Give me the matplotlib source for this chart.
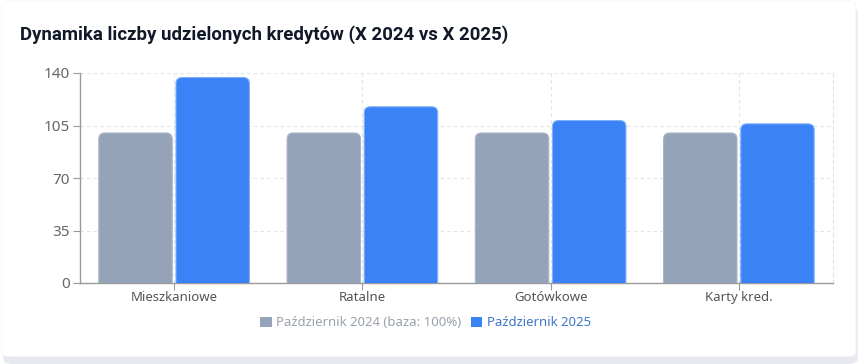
import matplotlib
matplotlib.use('Agg')
import matplotlib.pyplot as plt
from matplotlib.patches import FancyBboxPatch
import numpy as np

# dane
categories = ['Mieszkaniowe', 'Ratalne', 'Gotówkowe', 'Karty kred.']
oct_2024 = [100, 100, 100, 100]
oct_2025 = [137, 117.5, 108.3, 106.1]
yticks = [0, 35, 70, 105, 140]
labels = ['Październik 2024 (baza: 100%)', 'Październik 2025']

GRAY = '#94a3b8'
BLUE = '#3b82f6'

plt.rcParams['font.family'] = ['Noto Sans', 'DejaVu Sans']

fig = plt.figure(figsize=(8.61, 3.64), dpi=100)
fig.patch.set_facecolor('white')

# karta z cieniem
shadow = FancyBboxPatch((0.004, 0.0), 0.992, 0.98, boxstyle='round,pad=0,rounding_size=0.012',
                        transform=fig.transFigure, facecolor='#e6e9ef', edgecolor='none', zorder=0)
card = FancyBboxPatch((0.002, 0.02), 0.992, 0.977, boxstyle='round,pad=0,rounding_size=0.012',
                      transform=fig.transFigure, facecolor='white', edgecolor='#f3f4f7', lw=0.6, zorder=1)
fig.patches.extend([shadow, card])

fig.text(20 / 861, 1 - 35 / 364, 'Dynamika liczby udzielonych kredytów (X 2024 vs X 2025)',
         fontsize=13.4, fontweight='bold', family=['Roboto', 'DejaVu Sans'],
         color='#111827', va='center', ha='left')

ax = fig.add_axes([80 / 861, 1 - 283 / 364, 753 / 861, 210 / 364])
ax.set_facecolor('none')
ax.set_zorder(2)

x = np.arange(len(categories))
w = 0.39
b1 = ax.bar(x - 0.205, oct_2024, w, color=GRAY)
b2 = ax.bar(x + 0.205, oct_2025, w, color=BLUE)

# zaokrąglone rogi
for bars, col, ec in [(b1, GRAY, '#aab6c6'), (b2, BLUE, '#7fb0fb')]:
    for r in bars:
        bx, by = r.get_x(), r.get_y()
        bw, bh = r.get_width(), r.get_height()
        r.remove()
        p = FancyBboxPatch((bx, by - 10), bw, bh + 10,
                           boxstyle='round,pad=0,rounding_size=0.032', mutation_aspect=125,
                           facecolor=col, edgecolor=ec, lw=0.8, zorder=3)
        ax.add_patch(p)

ax.set_xlim(-0.5, len(categories) - 0.5)
ax.set_ylim(0, 140)
ax.set_yticks(yticks)
ax.set_xticks(x)
ax.set_xticklabels(categories)

ax.grid(True, axis='y', linestyle=(0, (3, 3)), color='#e3e3e3', lw=0.8, zorder=0)
ax.grid(True, axis='x', linestyle=(0, (3, 3)), color='#e3e3e3', lw=0.8, zorder=0)
ax.set_axisbelow(True)

for s in ['left', 'bottom']:
    ax.spines[s].set_color('#9a9a9a')
    ax.spines[s].set_linewidth(1.0)
ax.spines['top'].set_visible(False)
ax.spines['right'].set_color('#e3e3e3')
ax.spines['right'].set_linestyle((0, (3, 3)))
ax.spines['right'].set_linewidth(0.8)

ax.tick_params(axis='y', length=5, color='#9a9a9a', labelsize=11, labelcolor='#666666', pad=2)
ax.tick_params(axis='x', length=5, color='#9a9a9a', labelsize=9.5, labelcolor='#555555', pad=1)

# legenda
leg = ax.legend([b1, b2], labels, loc='center', bbox_to_anchor=(0.459, (283 - 323) / 210),
                ncol=2, frameon=False, fontsize=9.5, handlelength=0.85, handleheight=0.85,
                handletextpad=0.35, columnspacing=0.7)
for h, c in zip(leg.legend_handles, [GRAY, BLUE]):
    h.set_facecolor(c)
    h.set_edgecolor('none')
for t, c in zip(leg.get_texts(), ['#9aa1ab', '#3f78c4']):
    t.set_color(c)

plt.savefig('out.png', dpi=100, facecolor='white')
